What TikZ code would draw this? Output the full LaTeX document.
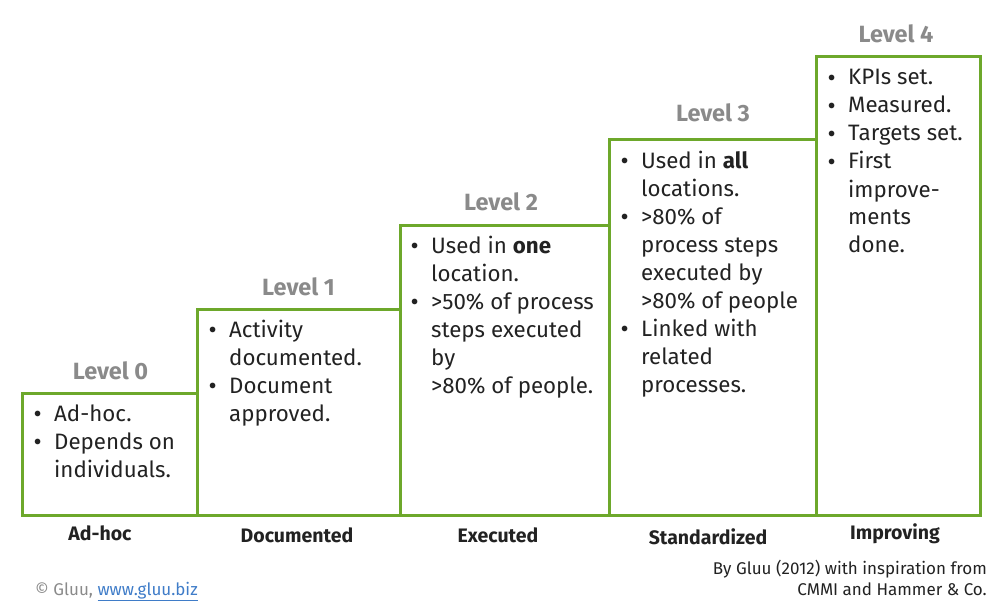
\documentclass[tikz,border=0pt]{standalone}
\usepackage{fontspec}
\setmainfont{Fira Sans}
\usepackage{array}
\definecolor{lvlgreen}{HTML}{6DA82B}
\definecolor{lvlgrey}{HTML}{8A8A8A}
\definecolor{txt}{HTML}{222222}
\definecolor{linkblue}{HTML}{3F7CC8}
\newcommand\bl{\makebox[17pt][c]{\raisebox{-0.1ex}{\fontsize{25}{25}\selectfont\textbullet}}}
\begin{document}
\begin{tikzpicture}[x=1pt,y=-1pt,
  box/.style={draw=lvlgreen,line width=3pt},
  body/.style={anchor=base west,inner sep=0pt,text=txt,font=\fontsize{22.3}{28}\selectfont},
  lvl/.style={anchor=base,inner sep=0pt,text=lvlgrey,font=\fontsize{23.5}{26}\selectfont\bfseries},
  cat/.style={anchor=base,inner sep=0pt,text=txt,font=\fontsize{19.5}{22}\selectfont\bfseries},
  foot/.style={inner sep=0pt,font=\fontsize{17}{21.5}\selectfont}]
\useasboundingbox (0,0) rectangle (1001,607);
\draw[box] (22,393) rectangle (197,515);
\draw[box] (197,309) rectangle (400,515);
\draw[box] (400,225) rectangle (609,515);
\draw[box] (609,140) rectangle (816,515);
\draw[box] (816,57) rectangle (980,515);

\node[lvl] (l0) at (110.5,379) {Level 0};
\node[lvl] (l1) at (298.5,295) {Level 1};
\node[lvl] (l2) at (501,210.5) {Level 2};
\node[lvl] (l3) at (713,121.5) {Level 3};
\node[lvl] (l4) at (896,42.5) {Level 4};

\node[body] (t0) at (29,421) {\begin{tabular}[t]{@{}l@{\hspace{8pt}}l@{}}\bl & Ad-hoc.\\ \bl & Depends on\\ & individuals.\end{tabular}};
\node[body] (t1) at (204,337) {\begin{tabular}[t]{@{}l@{\hspace{8pt}}l@{}}\bl & Activity\\ & documented.\\ \bl & Document\\ & approved.\end{tabular}};
\node[body] (t2) at (406,253) {\begin{tabular}[t]{@{}l@{\hspace{8pt}}l@{}}\bl & Used in \textbf{one}\\ & location.\\ \bl & >50\% of process\\ & steps executed\\ & by\\ & >80\% of people.\end{tabular}};
\node[body] (t3) at (616,168) {\begin{tabular}[t]{@{}l@{\hspace{8pt}}l@{}}\bl & Used in \textbf{all}\\ & locations.\\ \bl & >80\% of\\ & process steps\\ & executed by\\ & >80\% of people\\ \bl & Linked with\\ & related\\ & processes.\end{tabular}};
\node[body] (t4) at (823,85) {\begin{tabular}[t]{@{}l@{\hspace{8pt}}l@{}}\bl & KPIs set.\\ \bl & Measured.\\ \bl & Targets set.\\ \bl & First\\ & improve-\\ & ments\\ & done.\end{tabular}};

\node[cat] (c0) at (100,540) {Ad-hoc};
\node[cat] (c1) at (297,542) {Documented};
\node[cat] (c2) at (498,542) {Executed};
\node[cat] (c3) at (708,544) {Standardized};
\node[cat] (c4) at (895,539) {Improving};

\node[foot,anchor=base west,text=lvlgrey] (copy) at (35,595) {© Gluu, \textcolor{linkblue}{\underline{www.gluu.biz}}};
\node[foot,anchor=base east,text=txt,align=right] (cred1) at (987,574) {By Gluu (2012) with inspiration from};
\node[foot,anchor=base east,text=txt,align=right] (cred2) at (987,595) {CMMI and Hammer \& Co.};
\end{tikzpicture}
\end{document}
